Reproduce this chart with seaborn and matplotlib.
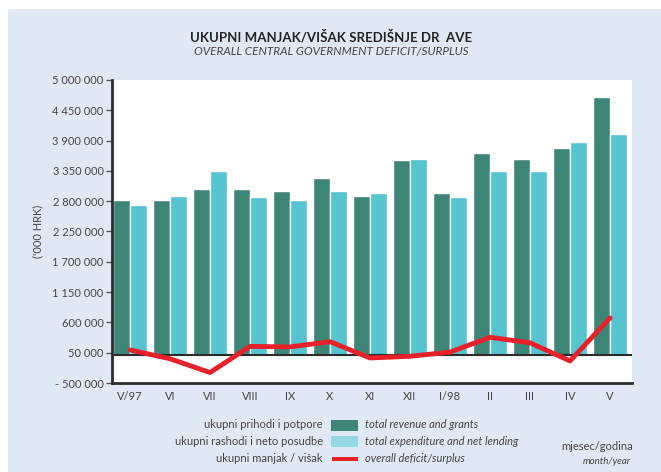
import numpy as np
import pandas as pd
import seaborn as sns
import matplotlib.pyplot as plt
from matplotlib.patches import Rectangle
from matplotlib.ticker import FuncFormatter

# podaci (u tisucama kuna)
mjeseci = ["V/97", "VI", "VII", "VIII", "IX", "X", "XI", "XII", "I/98", "II", "III", "IV", "V"]
prihodi = [2830000, 2830000, 3030000, 3030000, 2980000, 3230000, 2890000,
           3545000, 2940000, 3670000, 3560000, 3765000, 4700000]
rashodi = [2740000, 2900000, 3340000, 2870000, 2830000, 2990000, 2940000,
           3560000, 2885000, 3345000, 3345000, 3875000, 4020000]
manjak = [100000, -60000, -310000, 165000, 155000, 250000, -45000,
          -15000, 60000, 330000, 230000, -100000, 680000]

y_ticks = [-500000 + 550000 * k for k in range(11)]

GREEN = "#3d8577"
CYAN = "#55c4cf"
RED = "#e8202a"
PANEL = "#e1e8f5"
DARK = "#2b2b2b"

sns.set_theme(style="white")
plt.rcParams["font.family"] = ["Lato", "DejaVu Sans"]

df = pd.DataFrame({"mjesec": mjeseci * 2,
                   "vrijednost": prihodi + rashodi,
                   "serija": ["prihodi"] * len(mjeseci) + ["rashodi"] * len(mjeseci)})

fig = plt.figure(figsize=(6.61, 4.72), dpi=100)
fig.patch.set_facecolor("white")
fig.patches.append(Rectangle((8 / 661, 0), 1, 1 - 9 / 472, transform=fig.transFigure,
                             facecolor=PANEL, edgecolor="none", zorder=-10))

ax = fig.add_axes([112 / 661, 1 - 383 / 472, 520 / 661, 303 / 472])
ax.set_facecolor("white")

sns.barplot(data=df, x="mjesec", y="vrijednost", hue="serija",
            palette=[GREEN, CYAN], width=0.83, gap=0, saturation=1,
            legend=False, ax=ax)
sns.lineplot(x=np.arange(len(mjeseci)), y=manjak, color=RED, linewidth=3.5,
             ax=ax, zorder=5)

ax.axhline(0, color=DARK, linewidth=1.5, zorder=4)
ax.set_xlim(-0.45, 12.55)
ax.set_ylim(-500000, 5000000)
ax.set_yticks(y_ticks)
ax.yaxis.set_major_formatter(FuncFormatter(
    lambda v, p: ("- " if v < 0 else "") + f"{abs(int(v)):,}".replace(",", " ")))
ax.tick_params(axis="y", direction="out", length=4, width=1, color="#555555",
               labelsize=8, labelcolor="#444444", pad=2, left=True)
ax.tick_params(axis="x", length=0, labelsize=8, labelcolor="#444444", pad=6)
ax.set_xlabel("")
ax.set_ylabel("")

for s in ["top", "right"]:
    ax.spines[s].set_visible(False)
for s in ["left", "bottom"]:
    ax.spines[s].set_color(DARK)
    ax.spines[s].set_linewidth(2)

fig.text(38 / 661, 1 - 231 / 472, "('000 HRK)", rotation=90, ha="center", va="center",
         fontsize=8, color="#444444")

# naslov
fig.text(331 / 661, 1 - 37 / 472, "UKUPNI MANJAK/VIŠAK SREDIŠNJE DR  AVE",
         ha="center", va="center", fontsize=9.5, fontweight="bold", color="#222222")
fig.text(331 / 661, 1 - 51 / 472, "OVERALL CENTRAL GOVERNMENT DEFICIT/SURPLUS",
         ha="center", va="center", fontsize=8.5, style="italic", color="#444444")

# legenda
legenda = [("ukupni prihodi i potpore", "total revenue and grants", GREEN, "bar"),
           ("ukupni rashodi i neto posudbe", "total expenditure and net lending", "#93d8e3", "bar"),
           ("ukupni manjak / višak", "overall deficit/surplus", RED, "line")]
for i, (hr, en, boja, vrsta) in enumerate(legenda):
    yc = 1 - (425 + 16.8 * i) / 472
    fig.text(323 / 661, yc, hr, ha="right", va="center", fontsize=8, color="#444444")
    fig.text(365 / 661, yc, en, ha="left", va="center", fontsize=8, style="italic",
             color="#444444")
    if vrsta == "bar":
        fig.patches.append(Rectangle((331 / 661, yc - 5.5 / 472), 27 / 661, 11 / 472,
                                     transform=fig.transFigure, facecolor=boja,
                                     edgecolor="none"))
    else:
        fig.patches.append(Rectangle((332 / 661, yc - 2 / 472), 26 / 661, 4 / 472,
                                     transform=fig.transFigure, facecolor=boja,
                                     edgecolor="none"))

fig.text(633 / 661, 1 - 446 / 472, "mjesec/godina", ha="right", va="center",
         fontsize=8, color="#444444")
fig.text(631 / 661, 1 - 462 / 472, "month/year", ha="right", va="center",
         fontsize=7, style="italic", color="#444444")

fig.savefig("out.png", dpi=100, facecolor=fig.get_facecolor())
